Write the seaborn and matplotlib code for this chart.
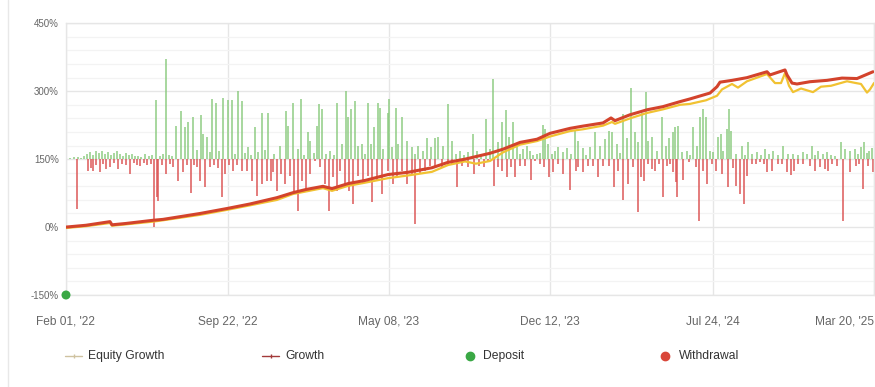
import matplotlib
matplotlib.use("Agg")
import matplotlib.pyplot as plt
import seaborn as sns
import pandas as pd
from matplotlib.lines import Line2D
from matplotlib.ticker import MultipleLocator

sns.set_theme(style="white")
plt.rcParams['font.family'] = ['Liberation Sans', 'DejaVu Sans']

# ---------------- data ----------------
X_TICKS = [0, 162, 323, 484, 647, 808]
X_LABELS = ["Feb 01, '22", "Sep 22, '22", "May 08, '23", "Dec 12, '23", "Jul 24, '24", "Mar 20, '25"]
Y_TICKS = [-150, 0, 150, 300, 450]

GROWTH_DAY = [0, 10, 20, 44, 46, 60, 87, 97, 134, 161, 184, 211, 227, 240, 257, 266, 282, 299,
              322, 342, 366, 382, 399, 424, 437, 454, 471, 484, 504, 517, 537, 545, 549, 564,
              581, 597, 614, 624, 644, 651, 654, 666, 681, 701, 704, 719, 721, 726, 731, 744,
              761, 776, 791, 807]
GROWTH_PCT = [0, 2, 4, 12, 5, 8, 15, 17, 30, 41, 51, 65, 76, 83, 90, 85, 96, 103,
              116, 121, 131, 143, 150, 163, 172, 187, 194, 207, 218, 223, 230, 241, 235, 248,
              259, 266, 277, 283, 296, 310, 320, 324, 330, 343, 336, 347, 336, 318, 316, 321,
              324, 329, 328, 343]

EQUITY_DAY = [0, 20, 44, 46, 60, 87, 97, 134, 161, 184, 211, 227, 257, 266, 282, 299, 322, 342,
              366, 382, 399, 410, 424, 437, 454, 471, 484, 504, 517, 537, 546, 549, 564, 581,
              597, 614, 624, 640, 651, 656, 666, 672, 681, 701, 709, 715, 719, 723, 727, 735,
              747, 755, 765, 781, 790, 795, 801, 804, 808]
EQUITY_PCT = [-2, 2, 9, 3, 6, 12, 15, 27, 38, 48, 60, 73, 86, 80, 91, 98, 108, 114,
              122, 137, 145, 140, 146, 165, 182, 190, 200, 212, 216, 224, 232, 228, 240, 252,
              260, 270, 272, 280, 290, 304, 316, 308, 322, 338, 318, 318, 340, 312, 298, 306,
              298, 310, 312, 322, 318, 316, 297, 304, 318]

DEPOSIT_DAY = [0]
DEPOSIT_PCT = [-150]

BAR_BASE = 150
GAIN_BARS = [
    (4, 3), (8, 4), (12, 5), (15, 3), (18, 8), (21, 12), (24, 16), (27, 10), (30, 18), (33, 14),
    (36, 19), (39, 12), (42, 16), (45, 10), (48, 14), (51, 17), (54, 12), (57, 8), (60, 14),
    (63, 10), (66, 12), (69, 8), (72, 6), (75, 4), (79, 12), (83, 6), (86, 10),
    (90, 130), (94, 8), (97, 12), (100, 222), (103, 10), (106, 6), (110, 73), (115, 106),
    (119, 71), (122, 82), (127, 92), (131, 20), (135, 97), (137, 55), (141, 48), (144, 15),
    (146, 133), (150, 125), (153, 18), (157, 136), (162, 130), (166, 130), (169, 12),
    (172, 150), (176, 128), (179, 14), (182, 26), (185, 10), (189, 71), (192, 16), (196, 103),
    (199, 20),
    (202, 103), (208, 12), (214, 29), (220, 106), (222, 73), (227, 125), (232, 22), (235, 132),
    (238, 10), (242, 59), (244, 40), (248, 14), (251, 73), (253, 121), (256, 110), (260, 12),
    (264, 18), (268, 10), (271, 125), (276, 33), (280, 150), (282, 92), (285, 110), (289, 128),
    (292, 29), (296, 33), (299, 12), (302, 125), (305, 33), (308, 70), (312, 125), (314, 114),
    (317, 22), (322, 103), (323, 132), (326, 26), (330, 114), (332, 33), (336, 92), (341, 40),
    (346, 26), (349, 12), (352, 29), (357, 18), (361, 46), (365, 26), (369, 46), (372, 48),
    (377, 29), (382, 122), (386, 40), (390, 12), (394, 18), (398, 10), (402, 15), (407, 55),
    (411, 18), (415, 10), (420, 88), (424, 22), (427, 178), (432, 37), (436, 83), (440, 108),
    (443, 48), (447, 81), (451, 26), (454, 12), (457, 22), (461, 29), (464, 18), (467, 10),
    (471, 11), (474, 14), (477, 76), (479, 66), (482, 33), (486, 12), (489, 18), (492, 26),
    (497, 15), (501, 24), (505, 12), (509, 62), (512, 40), (517, 24), (520, 10), (524, 26),
    (529, 59), (534, 29), (539, 44), (543, 62), (546, 59), (551, 33), (554, 14), (557, 99),
    (561, 46), (565, 158), (569, 59), (572, 37), (576, 103), (580, 149), (582, 40), (586, 48),
    (591, 18), (596, 92), (600, 29), (603, 46), (607, 59),
    (609, 71), (612, 73), (616, 15), (621, 18), (624, 10), (627, 71), (631, 29), (634, 92),
    (637, 110), (640, 92), (644, 18), (647, 15), (652, 49), (655, 55), (657, 18), (661, 66),
    (663, 110), (665, 62), (670, 12), (676, 29), (679, 10), (682, 37), (686, 12), (691, 15),
    (695, 10), (699, 22), (703, 12), (707, 18), (712, 10), (717, 29), (722, 12), (727, 11),
    (732, 10), (737, 15), (741, 12), (746, 29), (749, 10), (752, 18), (757, 12), (761, 15),
    (765, 10), (769, 7), (775, 37), (779, 22), (784, 18), (789, 22), (792, 12), (795, 26),
    (798, 37), (801, 14), (803, 18), (806, 24),
]
LOSS_BARS = [
    (11, 110), (22, 26), (25, 20), (27, 26), (30, 12), (34, 29), (37, 10), (40, 22), (44, 18),
    (48, 8), (52, 22), (56, 10), (60, 14), (64, 33), (68, 8), (71, 12), (74, 15), (78, 8),
    (81, 13), (85, 10), (88, 150), (91, 84), (92, 92), (96, 14), (100, 33), (104, 10),
    (107, 18), (112, 48), (117, 29), (121, 12), (125, 75), (128, 14), (131, 18), (134, 48),
    (139, 62), (144, 18), (148, 12), (152, 20), (156, 84), (159, 33), (163, 14), (167, 26),
    (171, 12), (176, 26), (181, 26), (186, 48), (191, 81), (196, 55),
    (201, 48), (205, 48), (207, 29), (211, 70), (215, 33), (219, 55), (224, 37), (228, 70),
    (232, 114), (236, 48), (240, 66), (244, 33), (249, 4), (254, 18), (259, 55), (263, 114),
    (267, 40), (271, 70), (274, 26), (279, 55), (283, 70), (287, 100), (292, 37), (297, 55),
    (302, 37), (306, 95), (311, 48), (316, 77), (322, 26), (327, 55), (331, 37), (336, 26),
    (341, 55), (346, 33), (349, 144), (354, 33), (359, 26), (364, 15), (369, 18), (376, 18),
    (382, 15), (386, 10), (391, 61), (396, 15), (402, 18), (408, 33),
    (413, 15), (418, 18), (422, 7), (428, 59), (432, 18), (436, 26), (441, 39), (445, 18),
    (449, 40), (454, 15), (459, 15), (465, 46), (469, 4), (474, 11), (478, 18), (483, 40),
    (487, 29), (492, 11), (497, 33), (504, 68), (510, 26), (512, 18), (517, 29), (522, 15),
    (527, 15), (532, 40), (537, 15), (543, 15), (548, 62), (552, 26), (557, 90), (562, 55),
    (567, 18), (572, 117), (575, 40), (578, 48), (582, 10), (586, 22), (589, 26), (593, 10),
    (597, 84), (601, 15), (604, 10),
    (607, 29), (610, 51), (611, 84), (617, 46), (623, 7), (630, 18), (633, 136), (637, 26),
    (641, 55), (646, 11), (650, 26), (656, 33), (662, 62), (667, 20), (670, 59), (674, 77),
    (678, 100), (681, 37), (686, 11), (690, 10), (694, 7), (698, 10), (701, 29), (706, 26),
    (712, 11), (716, 10), (721, 29), (725, 34), (728, 26), (732, 10), (737, 11), (744, 15),
    (749, 26), (754, 18), (759, 22), (762, 26), (766, 10), (771, 15), (777, 136), (784, 29),
    (790, 15), (793, 10), (797, 66), (802, 15), (807, 29),
]

# ---------------- figure ----------------
W, H = 875, 387
fig = plt.figure(figsize=(W / 100, H / 100), dpi=100)
fig.patch.set_facecolor('white')
ax = fig.add_axes([66 / W, 1 - 295 / H, 808 / W, (295 - 23.3) / H])
ax.set_facecolor('white')

# bars
gain = pd.DataFrame(GAIN_BARS, columns=['day', 'val'])
loss = pd.DataFrame(LOSS_BARS, columns=['day', 'val'])
ax.bar(gain['day'], gain['val'], bottom=BAR_BASE, width=1.5, color='#8ccb80',
       linewidth=0, zorder=2, alpha=0.75)
ax.bar(loss['day'], -loss['val'], bottom=BAR_BASE, width=1.5, color='#dc5454',
       linewidth=0, zorder=2, alpha=0.75)

# lines
eq = pd.DataFrame({'day': EQUITY_DAY, 'pct': EQUITY_PCT})
gr = pd.DataFrame({'day': GROWTH_DAY, 'pct': GROWTH_PCT})
sns.lineplot(data=eq, x='day', y='pct', ax=ax, color='#f1c232', linewidth=1.6, zorder=3)
sns.lineplot(data=gr, x='day', y='pct', ax=ax, color='#d3432c', linewidth=2.2, zorder=4)

# deposit dot
dep = pd.DataFrame({'day': DEPOSIT_DAY, 'pct': DEPOSIT_PCT})
sns.scatterplot(data=dep, x='day', y='pct', ax=ax, color='#3aa845', s=42,
                edgecolor='none', zorder=6, clip_on=False)

# axes styling
ax.set_xlim(0, 808)
ax.set_ylim(-150, 450)
ax.set_xticks(X_TICKS)
ax.set_xticklabels(X_LABELS)
ax.set_yticks(Y_TICKS)
ax.set_yticklabels([f"{v}%" for v in Y_TICKS])
ax.yaxis.set_minor_locator(MultipleLocator(30))
ax.grid(which='major', axis='both', color='#e6e6e6', linewidth=1.0, zorder=0)
ax.grid(which='minor', axis='y', color='#f3f3f3', linewidth=0.9, zorder=0)
ax.set_axisbelow(True)
ax.tick_params(axis='y', which='both', length=0, pad=5, labelsize=7, labelcolor='#666666')
ax.tick_params(axis='x', which='both', length=0, pad=15, labelsize=8.6, labelcolor='#666666')
ax.get_xticklabels()[-1].set_horizontalalignment('right')
for s in ax.spines.values():
    s.set_color('#e6e6e6')
    s.set_linewidth(1.0)
ax.set_xlabel('')
ax.set_ylabel('')

# panel left border
fig.add_artist(Line2D([7.5 / W, 7.5 / W], [0, 1], color='#e8e8e8', lw=1.0,
                      transform=fig.transFigure))

# legend (manual, figure coords)
ly = 1 - 356 / H
fig.add_artist(Line2D([65 / W, 82 / W], [ly, ly], color='#cfc2a0', lw=1.0,
                      transform=fig.transFigure))
fig.add_artist(Line2D([73.5 / W], [ly], color='#cfc2a0', marker='|', markersize=3,
                      transform=fig.transFigure))
fig.text(88 / W, ly, 'Equity Growth', fontsize=8.7, color='#333333', va='center')

fig.add_artist(Line2D([262 / W, 279 / W], [ly, ly], color='#a33a3a', lw=1.0,
                      transform=fig.transFigure))
fig.add_artist(Line2D([270.5 / W], [ly], color='#a33a3a', marker='|', markersize=3,
                      transform=fig.transFigure))
fig.text(285 / W, ly, 'Growth', fontsize=8.7, color='#333333', va='center')

fig.add_artist(Line2D([470 / W], [ly], color='#3aa845', marker='o', markersize=6,
                      linestyle='none', transform=fig.transFigure))
fig.text(483 / W, ly, 'Deposit', fontsize=8.7, color='#333333', va='center')

fig.add_artist(Line2D([665 / W], [ly], color='#d9473a', marker='o', markersize=6,
                      linestyle='none', transform=fig.transFigure))
fig.text(679 / W, ly, 'Withdrawal', fontsize=8.7, color='#333333', va='center')

fig.savefig('out.png', dpi=100, facecolor='white')
